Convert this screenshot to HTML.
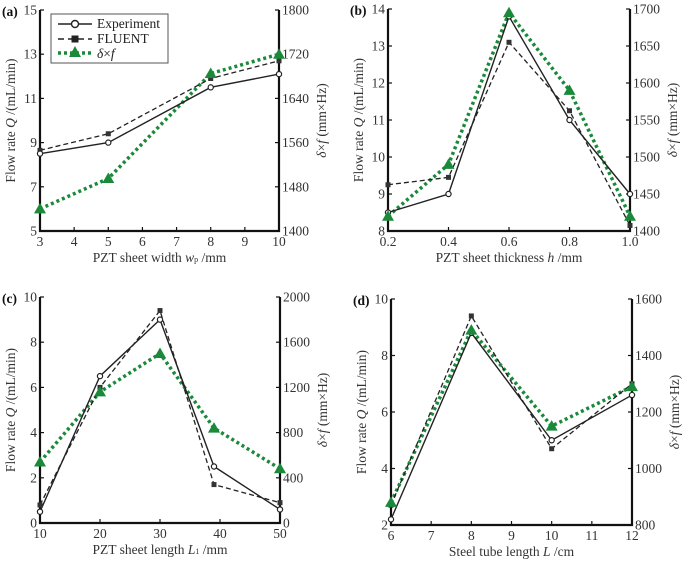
<!DOCTYPE html>
<html><head><meta charset="utf-8"><style>
html,body{margin:0;padding:0;background:#fff}
svg{display:block;font-family:"Liberation Serif",serif}
</style></head><body>
<svg id="c" width="685" height="561" viewBox="0 0 685 561" xmlns="http://www.w3.org/2000/svg"></svg>
<script>
// Panel (a)
const aX=[3,5,8,10];
const aExp=[8.5,9.0,11.5,12.1];
const aFlu=[8.65,9.4,11.9,12.7];
const aDel=[1440,1495,1685,1720];
const aXt=[3,4,5,6,7,8,9,10];
const aYt=[5,7,9,11,13,15];
const aRt=[1400,1480,1560,1640,1720,1800];
// Panel (b)
const bX=[0.2,0.4,0.6,0.8,1.0];
const bExp=[8.5,9.0,13.8,11.0,9.0];
const bFlu=[9.25,9.45,13.1,11.25,8.15];
const bDel=[1420,1490,1695,1590,1420];
const bXt=[0.2,0.4,0.6,0.8,1.0];
const bYt=[8,9,10,11,12,13,14];
const bRt=[1400,1450,1500,1550,1600,1650,1700];
// Panel (c)
const cX=[10,20,30,39,50];
const cExp=[0.5,6.5,9.0,2.5,0.6];
const cFlu=[0.8,6.0,9.4,1.7,0.9];
const cDel=[540,1160,1500,840,480];
const cXt=[10,20,30,40,50];
const cYt=[0,2,4,6,8,10];
const cRt=[0,400,800,1200,1600,2000];
// Panel (d)
const dX=[6,8,10,12];
const dExp=[2.2,8.8,5.0,6.6];
const dFlu=[2.7,9.4,4.7,7.0];
const dDel=[880,1490,1150,1290];
const dXt=[6,7,8,9,10,11,12];
const dYt=[2,4,6,8,10];
const dRt=[800,1000,1200,1400,1600];

const S="http://www.w3.org/2000/svg";
const svg=document.getElementById('c');
const FS=13.5;
function el(t,a,p){const e=document.createElementNS(S,t);for(const k in a)e.setAttribute(k,a[k]);(p||svg).appendChild(e);return e;}
function txt(s,a,p){const e=el('text',a,p);e.textContent=s;return e;}

function panel(o){
  const g=el('g',{});
  
  
  const sx=v=>o.x0+(v-o.xd[0])/(o.xd[1]-o.xd[0])*(o.x1-o.x0);
  const sy=v=>o.y1-(v-o.yd[0])/(o.yd[1]-o.yd[0])*(o.y1-o.y0);
  const sr=v=>o.y1-(v-o.rd[0])/(o.rd[1]-o.rd[0])*(o.y1-o.y0);
  let ax=el('path',{d:`M${o.x0},${o.y0}V${o.y1}H${o.x1}V${o.y0}`,fill:'none',stroke:'#111','stroke-width':2.2},g);
  
  o.xt.forEach(v=>{const x=sx(v);el('line',{x1:x,x2:x,y1:o.y1,y2:o.y1-4,stroke:'#111','stroke-width':1.2},g);
    const t=txt(o.xf?o.xf(v):String(v),{x:x,y:o.y1+15,'text-anchor':'middle','font-size':FS,fill:'#333'},g);
    });
  o.yt.forEach(v=>{const y=sy(v);el('line',{x1:o.x0,x2:o.x0+4,y1:y,y2:y,stroke:'#111','stroke-width':1.2},g);
    const t=txt(String(v),{x:o.x0-3,y:y+4.5,'text-anchor':'end','font-size':FS,fill:'#333'},g);
    });
  o.rt.forEach(v=>{const y=sr(v);el('line',{x1:o.x1,x2:o.x1-4,y1:y,y2:y,stroke:'#111','stroke-width':1.2},g);
    const t=txt(String(v),{x:o.x1+3,y:y+4.5,'text-anchor':'start','font-size':FS,fill:'#333'},g);
    });
  const pl=txt('('+o.id+')',{x:o.x0-38,y:o.y0+6,'font-size':13.5,'font-weight':'bold',fill:'#111'},g);
  
  const xl=el('text',{x:(o.x0+o.x1)/2,y:o.y1+31,'text-anchor':'middle','font-size':FS,fill:'#333'},g);
  xl.innerHTML=o.xlabel;
  
  const ym=(o.y0+o.y1)/2;
  const yl=el('text',{x:0,y:0,transform:`translate(${o.x0-25},${ym}) rotate(-90)`,'text-anchor':'middle','font-size':FS,fill:'#333'},g);
  yl.innerHTML='Flow rate <tspan font-style="italic">Q</tspan> /(mL/min)';
  
  const rl=el('text',{x:0,y:0,transform:`translate(${o.x1+o.rgap},${ym}) rotate(-90)`,'text-anchor':'middle','font-size':FS,fill:'#333'},g);
  rl.innerHTML='<tspan font-style="italic">δ</tspan>×<tspan font-style="italic">f</tspan> (mm×Hz)';
  
  const pts=(xs,ys,f)=>xs.map((v,i)=>sx(v)+','+f(ys[i])).join(' ');
  let l=el('polyline',{points:pts(o.X,o.Del,sr),fill:'none',stroke:'#1a8a3a','stroke-width':3.5,'stroke-dasharray':'3 3'},g);
  
  l=el('polyline',{points:pts(o.X,o.Flu,sy),fill:'none',stroke:'#222','stroke-width':1.3,'stroke-dasharray':'5 3'},g);
  
  l=el('polyline',{points:pts(o.X,o.Exp,sy),fill:'none',stroke:'#222','stroke-width':1.4},g);
  
  o.X.forEach((v,i)=>{
    const x=sx(v);
    let m=el('rect',{x:x-2.5,y:sy(o.Flu[i])-2.5,width:5,height:5,fill:'#333'},g);
    
    m=el('circle',{cx:x,cy:sy(o.Exp[i]),r:2.6,fill:'#fff',stroke:'#222','stroke-width':1.2},g);
    
    const y=sr(o.Del[i]);
    m=el('polygon',{points:`${x},${y-6} ${x-6},${y+4.5} ${x+6},${y+4.5}`,fill:'#1a8a3a'},g);
    
  });
  return g;
}
panel({id:'a',x0:40,x1:279,y0:10,y1:231,xd:[3,10],yd:[5,15],rd:[1400,1800],xt:aXt,yt:aYt,rt:aRt,X:aX,Exp:aExp,Flu:aFlu,Del:aDel,rgap:47,
  xlabel:'PZT sheet width <tspan font-style="italic">w</tspan><tspan font-size="8">p</tspan> /mm'});
panel({id:'b',x0:388,x1:630,y0:9,y1:231,xd:[0.2,1.0],yd:[8,14],rd:[1400,1700],xt:bXt,yt:bYt,rt:bRt,X:bX,Exp:bExp,Flu:bFlu,Del:bDel,rgap:47,xf:v=>v.toFixed(1),
  xlabel:'PZT sheet thickness <tspan font-style="italic">h</tspan> /mm'});
panel({id:'c',x0:40,x1:280,y0:297,y1:523,xd:[10,50],yd:[0,10],rd:[0,2000],xt:cXt,yt:cYt,rt:cRt,X:cX,Exp:cExp,Flu:cFlu,Del:cDel,rgap:47,
  xlabel:'PZT sheet length <tspan font-style="italic">L</tspan><tspan font-size="8">1</tspan> /mm'});
panel({id:'d',x0:391,x1:632,y0:299,y1:525,xd:[6,12],yd:[2,10],rd:[800,1600],xt:dXt,yt:dYt,rt:dRt,X:dX,Exp:dExp,Flu:dFlu,Del:dDel,rgap:47,
  xlabel:'Steel tube length <tspan font-style="italic">L</tspan> /cm'});

const lg=el('g',{});


el('rect',{x:51,y:14,width:117,height:49,fill:'#fff',stroke:'#555','stroke-width':1},lg);
el('line',{x1:58,x2:92,y1:24,y2:24,stroke:'#222','stroke-width':1.4},lg);
el('circle',{cx:75,cy:24,r:3.5,fill:'#fff',stroke:'#222','stroke-width':1.4},lg);
let e=txt('Experiment',{x:97,y:28,'font-size':FS,fill:'#222'},lg);

el('line',{x1:58,x2:92,y1:39,y2:39,stroke:'#222','stroke-width':1.4,'stroke-dasharray':'6 4'},lg);
el('rect',{x:71.5,y:35.5,width:7,height:7,fill:'#222'},lg);
e=txt('FLUENT',{x:97,y:43,'font-size':FS,fill:'#222'},lg);

el('line',{x1:58,x2:92,y1:53,y2:53,stroke:'#1a8a3a','stroke-width':3.5,'stroke-dasharray':'3 3'},lg);
el('polygon',{points:'75,46 69,57 81,57',fill:'#1a8a3a'},lg);
e=el('text',{x:97,y:58,'font-size':FS,fill:'#222'},lg);
e.innerHTML='<tspan font-style="italic">δ</tspan>×<tspan font-style="italic">f</tspan>';

</script>
</body></html>
